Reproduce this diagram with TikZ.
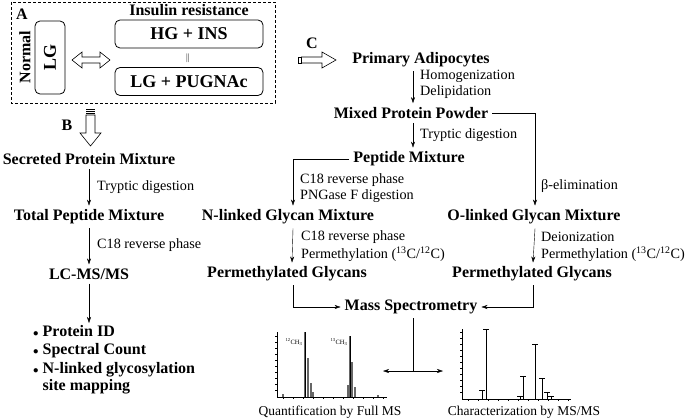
\documentclass[tikz,border=0pt]{standalone}
\usepackage{fontspec}
\setmainfont{Liberation Serif}
\usetikzlibrary{arrows.meta}

\begin{document}
\begin{tikzpicture}[
  x=1pt, y=-1pt,
  >={Stealth[length=6pt, width=4pt]},
  Head/.style={font=\fontsize{16}{18}\selectfont\bfseries, inner sep=4pt},
  StepText/.style={font=\fontsize{14.2}{16}\selectfont, inner sep=0pt, anchor=west},
  CondBox/.style={draw, thick, rounded corners=5pt, minimum width=148pt,
                  minimum height=28pt, font=\fontsize{18}{20}\selectfont\bfseries},
  Letter/.style={font=\fontsize{16}{18}\selectfont\bfseries, inner sep=0pt},
  Caption/.style={font=\fontsize{13.5}{15}\selectfont, inner sep=0pt},
  ]
\useasboundingbox (0,0) rectangle (685,420);

% panel A
\draw [densely dashed, line width=0.6pt] (11,2) rectangle (275,103);
\node [Letter] (a) at (22,14) {A};
\node [Letter, rotate=90] (normal) at (25,57) {Normal};
\node [draw, thick, rounded corners=5pt, minimum width=73pt, minimum height=30pt,
       rotate=90, font=\fontsize{18}{20}\selectfont\bfseries] (lg) at (50,57.5) {LG};
\node [Letter] (ir) at (189,10) {Insulin resistance};
\node [CondBox] (hgins) at (189,34) {HG + INS};
\node [CondBox] (lgpug) at (189,81.5) {LG + PUGNAc};
\node [font=\fontsize{9}{10}\selectfont, inner sep=0pt] (eq) at (188,58) {$\|$};
\draw [line width=0.6pt, fill=white] (72,60) -- (82,52) -- (82,57) -- (100,57) -- (100,52)
   -- (110,60) -- (100,68) -- (100,63) -- (82,63) -- (82,68) -- cycle;

% hollow arrow C
\node [Letter] (c) at (312,43) {C};
\draw [line width=0.6pt] (298,57) rectangle (301,63);
\draw [line width=0.6pt] (301,57) -- (322,57) -- (322,52) -- (336,60) -- (322,68)
   -- (322,63) -- (301,63);

% hollow arrow B
\node [Letter] (b) at (67,125) {B};
\foreach \y in {109,111,113}
  \draw [line width=0.5pt] (86,\y) -- (95,\y);
\draw [line width=0.6pt] (86,115) -- (86,133) -- (80,133) -- (90.5,146) -- (101,133)
   -- (95,133) -- (95,115) -- cycle;

% left column
\node [Head] (spm) at (89,159) {Secreted Protein Mixture};
\node [Head] (tpm) at (89,217) {Total Peptide Mixture};
\node [Head] (lcms) at (89,274) {LC-MS/MS};
\node [Head, anchor=north west, inner sep=0pt, font=\fontsize{16}{18.5}\selectfont\bfseries]
  (res) at (33,323)
  {\begin{tabular}{@{}l@{\hspace{4pt}}l}
   \textmd{\fontsize{11}{12}\selectfont$\bullet$} & Protein ID\\
   \textmd{\fontsize{11}{12}\selectfont$\bullet$} & Spectral Count\\
   \textmd{\fontsize{11}{12}\selectfont$\bullet$} & N-linked glycosylation\\[-1pt]
                      & site mapping
   \end{tabular}};
\draw [->] (spm) -- (tpm);
\draw [->] (tpm) -- (lcms);
\draw [->] (lcms) -- (lcms |- res.north);
\node [StepText] (s1) at (97,187) {Tryptic digestion};
\node [StepText] (s2) at (97,245) {C18 reverse phase};

% right part
\node [Head] (pa) at (421,60) {Primary Adipocytes};
\node [Head] (mpp) at (411,113) {Mixed Protein Powder};
\node [Head] (pep) at (409,159) {Peptide Mixture};
\node [Head] (nlg) at (288,217) {N-linked Glycan Mixture};
\node [Head] (olg) at (534,217) {O-linked Glycan Mixture};
\node [Head] (pgl) at (287,274) {Permethylated Glycans};
\node [Head] (pgr) at (532,274) {Permethylated Glycans};
\node [Head] (ms) at (411,307) {Mass Spectrometry};

\draw [->] ([xshift=2pt]pa.south -| mpp) -- ([xshift=2pt]mpp.north);
\draw [->] ([xshift=2pt]mpp.south) -- ([xshift=2pt]pep.north -| mpp);
\draw [->] (mpp.east) -| ([xshift=1pt]olg.north);
\draw [->] (pep.west) -| ([xshift=5pt]nlg.north);
\draw [->] ([xshift=5pt]nlg.south) -- ([xshift=5pt]pgl.north);
\draw [->] ([xshift=1pt]olg.south) -- ([xshift=1pt]pgr.north);
\draw [->] ([xshift=6pt]pgl.south) |- (ms.west);
\draw [->] ([xshift=1pt]pgr.south) |- (ms.east);

\node [StepText] (s3) at (420,76) {Homogenization};
\node [StepText] (s4) at (420,92) {Delipidation};
\node [StepText] (s5) at (420,135) {Tryptic digestion};
\node [StepText] (s6) at (300,180) {C18 reverse phase};
\node [StepText] (s7) at (300,196) {PNGase F digestion};
\node [StepText] (s8) at (541,186) {β-elimination};
\node [StepText] (s9) at (301,237) {C18 reverse phase};
\node [StepText] (s10) at (301,254) {Permethylation (\textsuperscript{13}C/\textsuperscript{12}C)};
\node [StepText] (s11) at (541,237) {Deionization};
\node [StepText] (s12) at (541,254) {Permethylation (\textsuperscript{13}C/\textsuperscript{12}C)};

% spectra
\coordinate (mid) at ([xshift=2pt]ms.south |- 0,371);
\coordinate (ql) at (383,371);
\coordinate (qr) at (443,371);
\draw ([xshift=2pt]ms.south) -- (mid);
\draw [<->] (ql) -- (qr);

% full MS
\draw [line width=0.7pt] (277,332) -- (277,397) -- (387,397);
\foreach \y in {336,342,...,394} \draw [line width=0.3pt] (275,\y) -- (277,\y);
\foreach \x in {283,293,...,383} \draw [line width=0.3pt] (\x,397) -- (\x,399);
\foreach \x/\t in {305/332,308/358,311/383,313/392,350/336,352/362,348/385,355/387,283/394,378/395}
  \fill [black!60] (\x-0.9,397) rectangle (\x+0.9,\t);
\draw [line width=0.8pt] (305.5,397) -- (305.5,332);
\draw [line width=0.8pt] (350.5,397) -- (350.5,336);
\node [font=\fontsize{6.5}{7}\selectfont, inner sep=0pt] (c12) at (294,342) {\textsuperscript{12}CH\textsubscript{3}};
\node [font=\fontsize{6.5}{7}\selectfont, inner sep=0pt] (c13) at (339,342) {\textsuperscript{13}CH\textsubscript{3}};
\node [Caption] (qfm) at (330,412) {Quantification by Full MS};

% MS/MS
\draw [line width=0.7pt] (462,329) -- (462,399) -- (571,399);
\foreach \y in {332,338,...,396} \draw [line width=0.3pt] (460,\y) -- (462,\y);
\foreach \x in {468,478,...,568} \draw [line width=0.3pt] (\x,399) -- (\x,401);
\foreach \x/\t in {486/329,535/344,523/376,542/378,482/390,547/392,520/396,551/396}
  \draw [line width=0.7pt] (\x,399) -- (\x,\t) (\x-3,\t) -- (\x+3,\t);
\node [Caption] (cms) at (524,412) {Characterization by MS/MS};
\end{tikzpicture}
\end{document}
